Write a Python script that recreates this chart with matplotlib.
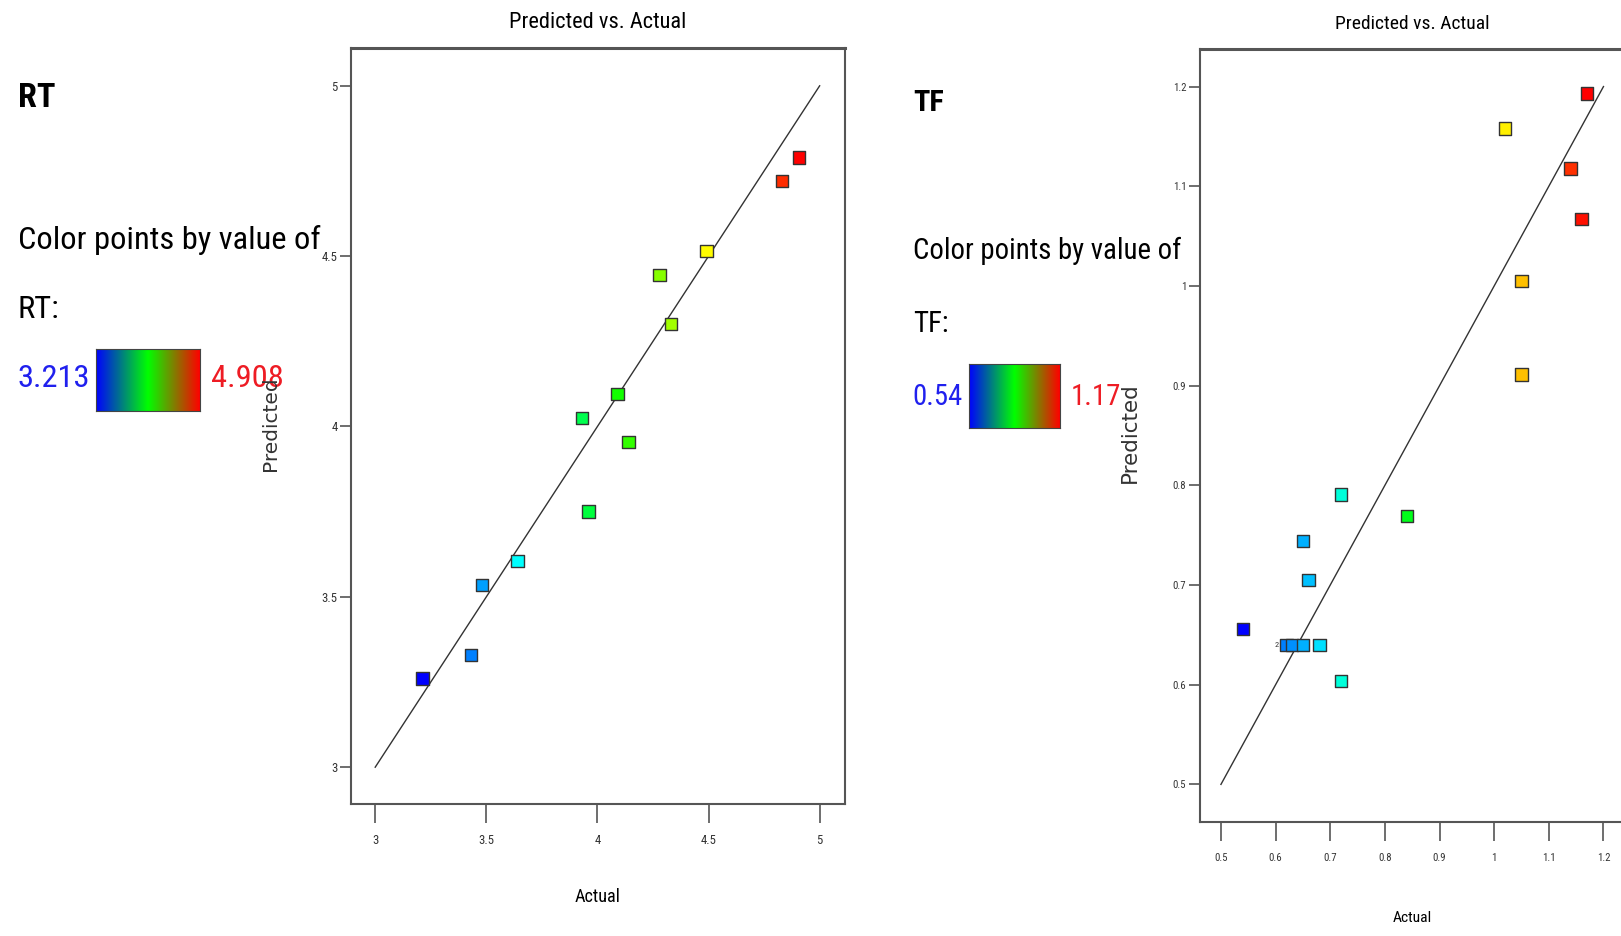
import matplotlib
matplotlib.use('Agg')
import matplotlib.pyplot as plt
import numpy as np
from matplotlib import font_manager
from matplotlib.colors import LinearSegmentedColormap, Normalize

# RT 数据 (actual / predicted)
rt_actual = [3.213, 3.43, 3.48, 3.64, 3.93, 3.96, 4.09, 4.14, 4.28, 4.33, 4.49, 4.83, 4.908]
rt_pred = [3.26, 3.33, 3.535, 3.605, 4.025, 3.75, 4.095, 3.955, 4.445, 4.30, 4.515, 4.72, 4.79]
rt_ticks = [3, 3.5, 4, 4.5, 5]
rt_ticklabels = ['3', '3.5', '4', '4.5', '5']

# TF 数据 (actual / predicted)
tf_actual = [0.54, 0.62, 0.63, 0.65, 0.68, 0.65, 0.66, 0.72, 0.72, 0.84, 1.02, 1.05, 1.05, 1.14, 1.16, 1.17]
tf_pred = [0.656, 0.64, 0.64, 0.64, 0.64, 0.744, 0.705, 0.791, 0.604, 0.769, 1.158, 1.005, 0.911, 1.118, 1.067, 1.193]
tf_ticks = [0.5, 0.6, 0.7, 0.8, 0.9, 1.0, 1.1, 1.2]
tf_ticklabels = ['0.5', '0.6', '0.7', '0.8', '0.9', '1', '1.1', '1.2']

# 找一个窄字体, 没有就用 DejaVu Sans
installed = {f.name for f in font_manager.fontManager.ttflist}
stretch = 'normal'
if 'Liberation Sans Narrow' in installed:
    family = 'Liberation Sans Narrow'
elif 'Roboto Condensed' in installed:
    family = 'Roboto Condensed'
elif 'Open Sans Condensed' in installed:
    family = 'Open Sans Condensed'
else:
    family = 'DejaVu Sans'
    if any(f.name == 'DejaVu Sans' and f.stretch == 'condensed' for f in font_manager.fontManager.ttflist):
        stretch = 'condensed'
plt.rcParams['font.family'] = [family, 'DejaVu Sans']
plt.rcParams['font.stretch'] = stretch

point_cmap = LinearSegmentedColormap.from_list(
    'pts', ['#0000ff', '#00ffff', '#00ff00', '#ffff00', '#ff0000'])
bar_cmap = LinearSegmentedColormap.from_list('bar', ['#0000ff', '#00ff00', '#ff0000'])

fig = plt.figure(figsize=(16.21, 9.36), dpi=100)
renderer = fig.canvas.get_renderer()


# 按参考图中的像素宽度算字号
def size_for(s, width_px, **kw):
    t = fig.text(0, 0, s, fontsize=20, **kw)
    w = t.get_window_extent(renderer).width
    t.remove()
    return 20 * width_px / w


def fit_text(x, y, s, width_px, **kw):
    return fig.text(x, y, s, fontsize=size_for(s, width_px), **kw)


def draw_panel(rect, actual, pred, lo, hi, ticks, ticklabels, lim, tick_fs):
    ax = fig.add_axes(rect)
    norm = Normalize(vmin=min(actual), vmax=max(actual))
    ax.plot([lo, hi], [lo, hi], color='#333333', lw=1.0, zorder=1)
    ax.scatter(actual, pred, marker='s', s=80, c=point_cmap(norm(np.array(actual))),
               edgecolors='#333333', linewidths=1.0, zorder=3)
    ax.set_xlim(lim)
    ax.set_ylim(lim)
    ax.set_xticks(ticks)
    ax.set_xticklabels(ticklabels)
    ax.set_yticks(ticks)
    ax.set_yticklabels(ticklabels)
    ax.tick_params(axis='x', length=14, width=1.2, pad=8, colors='#555555',
                   labelsize=tick_fs, labelcolor='#333333')
    ax.tick_params(axis='y', length=8, width=1.2, pad=2, colors='#555555',
                   labelsize=tick_fs, labelcolor='#333333')
    for s in ax.spines.values():
        s.set_color('#555555')
        s.set_linewidth(1.5)
    ax.spines['top'].set_linewidth(2.2)
    return ax


def color_key(x0, ys, name, vmin, vmax, bar_rect, vmax_x, key_width):
    fs = size_for('Color points by value of', key_width)
    fig.text(x0, ys[0], name, fontsize=fs * 1.05, fontweight='bold', va='center', ha='left')
    fig.text(x0, ys[1], 'Color points by value of', fontsize=fs, va='center', ha='left')
    fig.text(x0, ys[2], name + ':', fontsize=fs, va='center', ha='left')
    fig.text(x0, ys[3], vmin, fontsize=fs, color='#2020ee', va='center', ha='left')
    fig.text(vmax_x, ys[3], vmax, fontsize=fs, color='#ee1c24', va='center', ha='left')
    cax = fig.add_axes(bar_rect)
    grad = np.linspace(0, 1, 256).reshape(1, -1)
    cax.imshow(grad, aspect='auto', cmap=bar_cmap, extent=[0, 1, 0, 1])
    cax.set_xticks([])
    cax.set_yticks([])
    for s in cax.spines.values():
        s.set_color('#444444')
        s.set_linewidth(0.8)


# 左图 RT
ax1 = draw_panel([0.2168, 0.1414, 0.3042, 0.8077], rt_actual, rt_pred, 3, 5,
                 rt_ticks, rt_ticklabels, (2.893, 5.112), size_for('3.5', 16))
fit_text(0.3686, 0.9757, 'Predicted vs. Actual', 177, ha='center', va='center')
fit_text(0.3686, 0.042, 'Actual', 46, ha='center', va='center')
color_key(0.0108, [0.895, 0.7436, 0.6696, 0.5956], 'RT', '3.213', '4.908',
          [0.0593, 0.5613, 0.0638, 0.0663], 0.1301, 301)
fig.text(0.1671, 0.547, 'Predicted', fontsize=14.5, rotation=90, ha='center', va='center',
         family='DejaVu Sans', fontstretch='normal', color='#333333')

# 右图 TF
ax2 = draw_panel([0.7404, 0.1215, 0.2616, 0.8265], tf_actual, tf_pred, 0.5, 1.2,
                 tf_ticks, tf_ticklabels, (0.462, 1.238), size_for('0.5', 13.5))
ax2.text(0.606, 0.64, '2', fontsize=6, ha='right', va='center', color='#333333')
fit_text(0.8712, 0.9746, 'Predicted vs. Actual', 154, ha='center', va='center')
fit_text(0.8712, 0.0188, 'Actual', 39, ha='center', va='center')
color_key(0.5631, [0.8895, 0.7315, 0.6541, 0.5757], 'TF', '0.54', '1.17',
          [0.5976, 0.5425, 0.0561, 0.0685], 0.6607, 267)
fig.text(0.6971, 0.538, 'Predicted', fontsize=15.5, rotation=90, ha='center', va='center',
         family='DejaVu Sans', fontstretch='normal', color='#333333')

fig.savefig('out.png', dpi=100)
